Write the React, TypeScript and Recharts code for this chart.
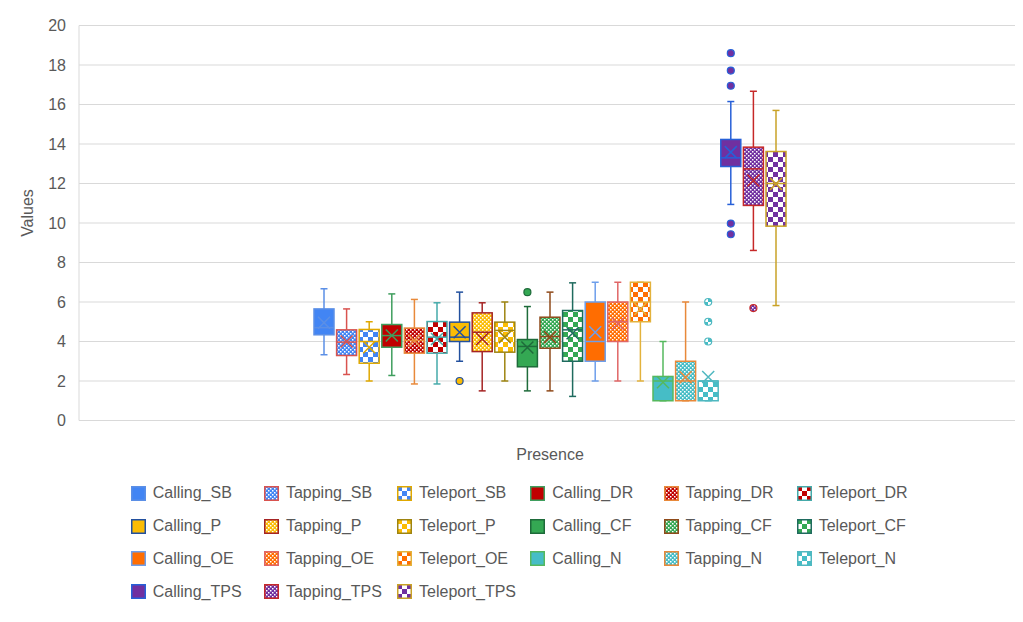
import React from "react";
import { ComposedChart, Bar, XAxis, YAxis, CartesianGrid, Legend } from "recharts";

const categories = ["Presence"];
const yTicks = [0, 2, 4, 6, 8, 10, 12, 14, 16, 18, 20];

const seriesNames = [
  "Calling_SB", "Tapping_SB", "Teleport_SB", "Calling_DR", "Tapping_DR", "Teleport_DR",
  "Calling_P", "Tapping_P", "Teleport_P", "Calling_CF", "Tapping_CF", "Teleport_CF",
  "Calling_OE", "Tapping_OE", "Teleport_OE", "Calling_N", "Tapping_N", "Teleport_N",
  "Calling_TPS", "Tapping_TPS", "Teleport_TPS",
];

const minVals = [3.33, 2.33, 2.0, 2.28, 1.85, 1.85, 3.0, 1.5, 2.0, 1.5, 1.5, 1.22, 2.0, 2.0, 2.0, 1.0, 1.0, 1.0, 10.94, 8.61, 5.82];
const q1Vals = [4.34, 3.29, 2.9, 3.71, 3.41, 3.41, 4.0, 3.49, 3.46, 2.72, 3.66, 3.0, 3.0, 4.0, 5.0, 1.0, 1.0, 1.0, 12.86, 10.89, 9.84];
const medianVals = [4.7, 3.97, 4.0, 4.3, 4.05, 4.22, 4.22, 4.47, 4.56, 3.75, 4.25, 4.59, 4.0, 5.0, 6.0, 2.0, 2.0, 2.0, 13.3, 12.74, 12.0];
const q3Vals = [5.65, 4.59, 4.61, 4.86, 4.68, 5.01, 4.98, 5.45, 4.98, 4.1, 5.23, 5.57, 6.0, 6.0, 7.0, 2.23, 3.0, 2.0, 14.23, 13.84, 13.62];
const maxVals = [6.67, 5.65, 5.0, 6.41, 6.13, 5.96, 6.5, 5.96, 6.0, 5.77, 6.5, 6.97, 7.0, 7.0, 7.0, 4.0, 6.0, 2.0, 16.15, 16.67, 15.7];
const meanVals = [4.95, 4.0, 3.71, 4.3, 4.05, 4.13, 4.47, 4.13, 4.22, 3.7, 4.22, 4.42, 4.47, 4.9, 5.65, 1.94, 2.19, 2.2, 13.59, 12.15, 11.98];
const outlierVals: number[][] = [
  [], [], [], [], [], [],
  [2.0], [], [], [6.5], [], [],
  [], [], [], [], [], [4.0, 5.0, 6.0],
  [18.6, 17.72, 16.95, 9.97, 9.43], [5.69], [],
];

const baseColors = [
  "#4285f4", "#4285f4", "#4285f4", "#c00000", "#c00000", "#c00000",
  "#fbbc04", "#fbbc04", "#fbbc04", "#34a853", "#34a853", "#34a853",
  "#ff6d01", "#ff6d01", "#ff6d01", "#46bdc6", "#46bdc6", "#46bdc6",
  "#7030a0", "#7030a0", "#7030a0",
];
const lineColors = [
  "#5b8fe6", "#d9534f", "#e0a800", "#3f9e5e", "#e8893a", "#45aaaa",
  "#22509e", "#a52424", "#9e8410", "#1e6b3a", "#8f4a1a", "#1f6b5e",
  "#6d9eeb", "#e06666", "#e3b23c", "#55b85e", "#e8893a", "#4fb8c0",
  "#2760d8", "#c62828", "#c9a227",
];
const fillKinds = [
  "solid", "mesh", "checker", "solid", "mesh", "checker", "solid", "mesh", "checker",
  "solid", "mesh", "checker", "solid", "mesh", "checker", "solid", "mesh", "checker",
  "solid", "mesh", "checker",
];

const FONT = "'Liberation Sans', Arial, sans-serif";
const TEXT = "#595959";
const GRID = "#d9d9d9";

const data = categories.map((name) => {
  const row: Record<string, any> = { name };
  seriesNames.forEach((s, i) => {
    row[s] = [minVals[i], maxVals[i]];
  });
  return row;
});

const renderPatterns = (prefix: string) =>
  seriesNames.map((s, i) => {
    const c = baseColors[i];
    if (fillKinds[i] === "mesh") {
      return (
        <pattern key={s} id={`${prefix}mesh-${i}`} width={4} height={4} patternUnits="userSpaceOnUse">
          <rect width={4} height={4} fill={c} />
          <rect x={0} y={0} width={1.5} height={1.5} fill="#ffffff" />
          <rect x={2} y={2} width={1.5} height={1.5} fill="#ffffff" />
        </pattern>
      );
    }
    if (fillKinds[i] === "checker") {
      return (
        <pattern key={s} id={`${prefix}checker-${i}`} width={10} height={10} patternUnits="userSpaceOnUse">
          <rect width={10} height={10} fill="#ffffff" />
          <rect x={0} y={0} width={5} height={5} fill={c} />
          <rect x={5} y={5} width={5} height={5} fill={c} />
        </pattern>
      );
    }
    return null;
  });

const fillFor = (i: number, prefix: string) =>
  fillKinds[i] === "solid" ? baseColors[i] : `url(#${prefix}${fillKinds[i]}-${i})`;

function makeBoxShape(i: number) {
  return (props: any) => {
    const { x, y, width, height } = props;
    if (x == null || y == null || height == null) return <g />;
    const top = Math.min(y, y + height);
    const bottom = Math.max(y, y + height);
    const lo = minVals[i];
    const hi = maxVals[i];
    const py = (v: number) => bottom - ((v - lo) / (hi - lo)) * (bottom - top);
    const cx = x + width / 2;
    const stroke = lineColors[i];
    const fill = fillFor(i, "");
    const yq1 = py(q1Vals[i]);
    const yq3 = py(q3Vals[i]);
    const ymed = py(medianVals[i]);
    const ymean = py(meanVals[i]);
    const cap = 3.5;
    const m = 6;
    return (
      <g>
        <line x1={cx} x2={cx} y1={py(hi)} y2={yq3} stroke={stroke} strokeWidth={1.5} />
        <line x1={cx} x2={cx} y1={yq1} y2={py(lo)} stroke={stroke} strokeWidth={1.5} />
        <line x1={cx - cap} x2={cx + cap} y1={py(hi)} y2={py(hi)} stroke={stroke} strokeWidth={1.5} />
        <line x1={cx - cap} x2={cx + cap} y1={py(lo)} y2={py(lo)} stroke={stroke} strokeWidth={1.5} />
        <rect x={x} y={yq3} width={width} height={Math.max(0, yq1 - yq3)} fill={fill} stroke={stroke} strokeWidth={1.5} />
        <line x1={x} x2={x + width} y1={ymed} y2={ymed} stroke={stroke} strokeWidth={1.5} />
        <path
          d={`M${cx - m},${ymean - m}L${cx + m},${ymean + m}M${cx - m},${ymean + m}L${cx + m},${ymean - m}`}
          stroke={stroke}
          strokeWidth={1.5}
          fill="none"
        />
        {outlierVals[i].map((v, k) => (
          <circle key={k} cx={cx} cy={py(v)} r={3.5} fill={fill} stroke={stroke} strokeWidth={1.2} />
        ))}
      </g>
    );
  };
}

const YLabel = (props: any) => {
  const vb = props.viewBox || { x: 0, y: 18.5, width: 71, height: 395 };
  const cx = vb.x + 19;
  const cy = vb.y + vb.height / 2 - 10;
  return (
    <text
      x={cx}
      y={cy}
      transform={`rotate(-90 ${cx} ${cy})`}
      textAnchor="middle"
      dominantBaseline="central"
      fill={TEXT}
      fontSize={16}
      fontFamily={FONT}
    >
      Values
    </text>
  );
};

const LegendContent = () => (
  <div style={{ position: "relative", width: 1015, height: 0, fontFamily: FONT, fontSize: 16, color: TEXT }}>
    {seriesNames.map((s, i) => {
      const col = i % 6;
      const row = Math.floor(i / 6);
      const left = 122.7 + col * 133.2;
      const cy = 486.3 + row * 32.8;
      return (
        <div
          key={s}
          style={{ position: "absolute", left, top: cy - 9, height: 18, display: "flex", alignItems: "center", whiteSpace: "nowrap" }}
        >
          <svg width={15} height={15} style={{ display: "block" }}>
            <defs>{renderPatterns("lg-")}</defs>
            <rect x={0.75} y={0.75} width={13.5} height={13.5} fill={fillFor(i, "lg-")} stroke={lineColors[i]} strokeWidth={1.5} />
          </svg>
          <span style={{ marginLeft: 7, lineHeight: "18px" }}>{s}</span>
        </div>
      );
    })}
  </div>
);

export default function App() {
  return (
    <div
      style={{
        position: "relative",
        marginLeft: -1,
        marginTop: -2,
        width: 1015,
        borderLeft: `1px solid ${GRID}`,
        borderTop: `1px solid ${GRID}`,
        background: "#ffffff",
      }}
    >
      <style>{`html,body{overflow:hidden;background:#fff}`}</style>
      <ComposedChart
        width={1015}
        height={607}
        data={data}
        margin={{ top: 18.5, right: 2, left: 0, bottom: 153.5 }}
        barGap={2.6}
      >
        <defs>{renderPatterns("")}</defs>
        <CartesianGrid horizontal vertical={false} stroke={GRID} strokeWidth={1} />
        <XAxis
          dataKey="name"
          type="category"
          height={40}
          tickLine={false}
          axisLine={false}
          tickSize={6}
          tickMargin={22}
          tick={{ fill: TEXT, fontSize: 16, fontFamily: FONT }}
        />
        <YAxis
          type="number"
          domain={[0, 20]}
          ticks={yTicks}
          interval={0}
          width={71}
          tickLine={false}
          axisLine={{ stroke: GRID }}
          tickSize={6}
          tickMargin={7}
          tick={{ fill: TEXT, fontSize: 16, fontFamily: FONT }}
          label={<YLabel />}
        />
        {seriesNames.map((s, i) => (
          <Bar
            key={s}
            dataKey={s}
            name={s}
            barSize={20}
            fill={baseColors[i]}
            isAnimationActive={false}
            shape={makeBoxShape(i)}
          />
        ))}
        <Legend
          layout="horizontal"
          verticalAlign="middle"
          align="center"
          wrapperStyle={{ left: 0, top: 0, width: 1015, height: 0 }}
          content={() => <LegendContent />}
        />
      </ComposedChart>
    </div>
  );
}
